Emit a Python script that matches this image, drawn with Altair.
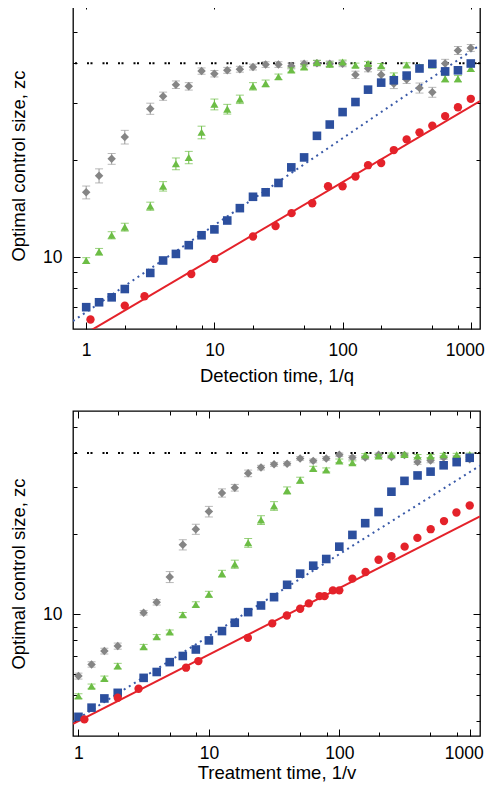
import altair as alt
import pandas as pd

FONT = "Liberation Sans"
GRAY = "#858585"
GRAY_ERR = "#9a9a9a"
GREEN = "#6cbd45"
BLUE = "#2c4f9e"
BLUE_LINE = "#3a5aa8"
RED = "#e4222a"

# common x grid (1/q or 1/v) of the simulated points
x_grid = [1, 1.26, 1.58, 2, 3.16, 3.98, 5.01, 6.31, 7.94, 10, 12.6, 15.8, 20, 25.1,
          31.6, 39.8, 50.1, 63.1, 79.4, 100, 126, 158, 200, 251, 316, 398, 501,
          631, 794, 1000]

# ---------------- top panel: detection time ----------------
gray_top = [15.9, 17.9, 20.2, 23.6, 28.9, 31.6, 34.3, 33.9, 37.8, 37.1, 38.0, 38.3,
            38.9, 39.6, 39.6, 39.2, 39.8, 40.0, 39.8, 39.8, 36.8, 38.5, 36.8, 34.5,
            35.6, 33.5, 32.5, 39.9, 43.8, 44.6]
gray_top_err = [0.73, 0.9, 0.78, 1.15, 1.15, 0.92, 0.92, 0.9, 0.85, 0.85, 0.8, 0.8,
                0.8, 0.8, 0.8, 0.8, 0.8, 0.8, 0.8, 0.8, 0.97, 0.9, 1.2, 1.15, 1.0,
                1.2, 1.15, 1.2, 1.25, 1.1]
green_top = [9.77, 10.4, 11.7, 12.4, 14.4, 16.6, 19.5, 20.4, 24.4, 29.8, 28.8, 30.9,
             33.9, 34.6, 36.3, 38.1, 38.9, 40.2, 39.7, 40.3, 39.4, 39.9, 39.3, 36.5,
             39.5, 39.0, 39.5, 35.8, 35.8, 38.5]
green_top_err = [0.2, 0.25, 0.3, 0.35, 0.42, 0.56, 0.82, 0.9, 1.1, 1.15, 1.0, 0.93,
                 0.9, 0.85, 0.7, 0.6, 0.6, 0.6, 0.6, 0.6, 0.6, 0.6, 0.6, 0.8, 0.6,
                 0.6, 0.6, 0.8, 0.8, 0.8]
blue_top = [7.0, 7.25, 7.51, 7.97, 8.94, 9.77, 10.24, 10.9, 11.7, 12.2, 13.0, 14.2,
            15.4, 15.9, 17.0, 19.0, 20.4, 23.8, 25.8, 28.2, 30.3, 33.1, 34.8, 35.4,
            36.6, 38.5, 39.8, 37.7, 38.0, 39.9]
red_top_x = [1.08, 2.0, 2.85, 6.6, 10, 20, 30, 40, 58, 77, 100, 126, 158, 200, 251,
             316, 398, 501, 631, 794, 1000]
red_top = [6.41, 7.08, 7.57, 8.87, 9.88, 11.6, 12.5, 13.7, 14.7, 16.6, 16.6, 17.8,
           19.3, 19.6, 21.5, 23.2, 24.4, 25.6, 27.4, 29.2, 31.0]
fit_top_x = [0.789, 1180]
red_fit_top = [5.50, 30.5]
blue_fit_top = [6.34, 45.5]

# ---------------- bottom panel: treatment time ----------------
gray_bot = [5.89, 6.51, 7.30, 7.62, 10.15, 11.1, 13.8, 18.2, 20.8, 24.2, 28.4, 29.7,
            33.6, 35.3, 36.3, 36.5, 38.2, 37.4, 38.2, 39.4, 38.5, 38.5, 39.4, 38.7,
            39.3, 37.0, 37.5, 38.5, 38.5, 37.9]
gray_bot_err = [0.15, 0.15, 0.18, 0.2, 0.2, 0.26, 0.65, 0.8, 0.9, 1.1, 1.0, 0.85,
                0.95, 0.7, 0.6, 0.6, 0.6, 0.6, 0.6, 0.6, 0.6, 0.6, 0.6, 0.6, 0.6,
                0.7, 0.7, 0.6, 0.6, 0.6]
green_bot = [4.96, 5.40, 5.77, 6.42, 7.58, 8.26, 8.60, 9.97, 10.9, 11.9, 14.2, 15.4,
             18.5, 22.5, 25.4, 29.0, 31.7, 35.0, 34.6, 37.4, 36.8, 39.3, 39.0, 39.5,
             39.5, 39.0, 39.0, 39.4, 39.4, 39.5]
green_bot_err = [0.1, 0.1, 0.12, 0.15, 0.15, 0.15, 0.15, 0.2, 0.25, 0.3, 0.41, 0.54,
                 0.7, 0.85, 0.95, 0.9, 0.8, 0.7, 0.6, 0.6, 0.6, 0.5, 0.5, 0.5, 0.5,
                 0.5, 0.5, 0.5, 0.5, 0.5]
blue_bot = [4.15, 4.49, 4.86, 5.10, 5.80, 6.10, 6.64, 7.00, 7.40, 8.00, 8.67, 9.31,
            10.2, 10.8, 11.6, 12.9, 14.2, 15.2, 16.1, 17.9, 19.8, 21.9, 24.1, 28.7,
            31.5, 33.0, 34.1, 36.0, 37.0, 38.4]
red_bot_x = [1.11, 2.0, 2.89, 6.68, 8.31, 19.9, 30.6, 39.6, 50.1, 58.4, 70.6, 77.1,
             89.3, 100, 126, 159, 200, 251, 317, 397, 502, 635, 791, 1000]
red_bot = [4.06, 4.89, 5.28, 6.33, 6.70, 8.18, 9.26, 9.91, 10.5, 11.0, 11.7, 11.7,
           12.3, 12.3, 13.6, 14.4, 16.0, 16.5, 17.9, 19.3, 20.8, 22.3, 24.0, 25.5]
fit_bot_x = [0.908, 1199]
red_fit_bot = [3.91, 23.2]
blue_fit_bot = [3.98, 35.9]

max_size = [40]

x_major = [1, 10, 100, 1000]
x_minor = [2, 5, 8, 20, 50, 80, 200, 500, 800]
y_major = [10]
y_minor_top = [7, 8, 9, 20, 30, 40, 50, 60]
y_minor_bot = [4, 5, 6, 7, 8, 9, 20, 30, 40, 50]


def axis(orient, values, major, title=None, title_pad=10, label_pad=12):
    size = 7 if major else 4
    show_labels = major and orient in ("bottom", "left")
    kw = dict(orient=orient, values=values, tickSize=size, offset=-size,
              domain=False, grid=False, ticks=True, tickColor="black",
              tickWidth=1, labels=show_labels, minExtent=0,
              title=title if show_labels else None)
    if show_labels:
        kw.update(format="d", labelPadding=label_pad, labelFlush=False,
                  labelOverlap=False, titlePadding=title_pad)
        if orient == "bottom":
            # keep the last label inside the page
            kw["labelOffset"] = {"condition": {"test": "datum.value >= 1000",
                                               "value": -6}, "value": 0}
    return alt.Axis(**kw)


def pts(xs, ys, errs=None):
    d = {"x": xs, "y": ys}
    if errs is not None:
        d["lo"] = [y - e for y, e in zip(ys, errs)]
        d["hi"] = [y + e for y, e in zip(ys, errs)]
    return pd.DataFrame(d)


def panel(xdom, ydom, ymin, gray, gray_err, green, green_err, blue, rx, red,
          fx, rfit, bfit, xtitle, height, xtitle_pad, xlabel_pad):
    xs = alt.Scale(type="log", domain=xdom, nice=False)
    ys = alt.Scale(type="log", domain=ydom, nice=False)

    def X(ax=None):
        return alt.X("x:Q", scale=xs, axis=ax)

    def Y(ax=None, field="y:Q"):
        return alt.Y(field, scale=ys, axis=ax)

    hline = alt.Chart(pd.DataFrame({"y": max_size})).mark_rule(
        color="black", strokeDash=[2, 1.5, 2, 10], strokeWidth=2
    ).encode(y=Y())
    fitdf = pd.DataFrame({"x": fx, "red": rfit, "blue": bfit})
    red_line = alt.Chart(fitdf).mark_line(color=RED, strokeWidth=2, clip=True).encode(
        x=X(), y=Y(field="red:Q"))
    blue_line = alt.Chart(fitdf).mark_line(
        color=BLUE_LINE, strokeWidth=2, strokeDash=[2, 4], clip=True
    ).encode(x=X(), y=Y(field="blue:Q"))

    gdf = pts(x_grid, gray, gray_err)
    gray_eb = alt.Chart(gdf).mark_errorbar(
        ticks={"size": 8}, color=GRAY_ERR, thickness=1
    ).encode(x=X(), y=Y(field="lo:Q"), y2="hi:Q")
    gray_pts = alt.Chart(gdf).mark_point(
        shape="diamond", filled=True, size=72, color=GRAY, opacity=1
    ).encode(
        x=X(axis("bottom", x_major, True, xtitle, title_pad=xtitle_pad,
                 label_pad=xlabel_pad)),
        y=Y(axis("left", y_major, True, "Optimal control size, zc", title_pad=14,
                 label_pad=11)),
    )
    gndf = pts(x_grid, green, green_err)
    green_eb = alt.Chart(gndf).mark_errorbar(
        ticks={"size": 8}, color=GREEN, thickness=1
    ).encode(x=X(), y=Y(field="lo:Q"), y2="hi:Q")
    green_pts = alt.Chart(gndf).mark_point(
        shape="triangle-up", filled=True, size=66, color=GREEN, opacity=1
    ).encode(x=X(axis("bottom", x_minor, False)), y=Y(axis("left", ymin, False)))
    blue_pts = alt.Chart(pts(x_grid, blue)).mark_point(
        shape="square", filled=True, size=74, color=BLUE, opacity=1
    ).encode(x=X(axis("top", x_major, True)), y=Y(axis("right", y_major, True)))
    red_pts = alt.Chart(pts(rx, red)).mark_point(
        shape="circle", filled=True, size=70, color=RED, opacity=1
    ).encode(x=X(axis("top", x_minor, False)), y=Y(axis("right", ymin, False)))

    return alt.layer(
        hline, red_line, blue_line, gray_eb, gray_pts, green_eb, green_pts,
        blue_pts, red_pts
    ).resolve_axis(x="independent", y="independent").properties(
        width=407, height=height)


top = panel([0.789, 1180], [5.99, 61.9], y_minor_top, gray_top, gray_top_err,
            green_top, green_top_err, blue_top, red_top_x, red_top, fit_top_x,
            red_fit_top, blue_fit_top, "Detection time, 1/q", 327, 8, 12)
bottom = panel([0.908, 1199], [3.52, 57.4], y_minor_bot, gray_bot, gray_bot_err,
               green_bot, green_bot_err, blue_bot, red_bot_x, red_bot, fit_bot_x,
               red_fit_bot, blue_fit_bot, "Treatment time, 1/v", 325, 2, 8)

chart = alt.vconcat(top, bottom, spacing=82, bounds="flush").properties(
    padding={"left": 0, "top": -8, "right": 0, "bottom": 0}
).configure_view(stroke="black", strokeWidth=1.3).configure_axis(
    labelFont=FONT, titleFont=FONT, labelFontSize=17.5, titleFontSize=18.5,
    labelColor="black", titleColor="black", titleFontWeight="normal",
    minExtent=0
)

chart.save("out.html", embed_options={"renderer": "svg", "actions": False})
